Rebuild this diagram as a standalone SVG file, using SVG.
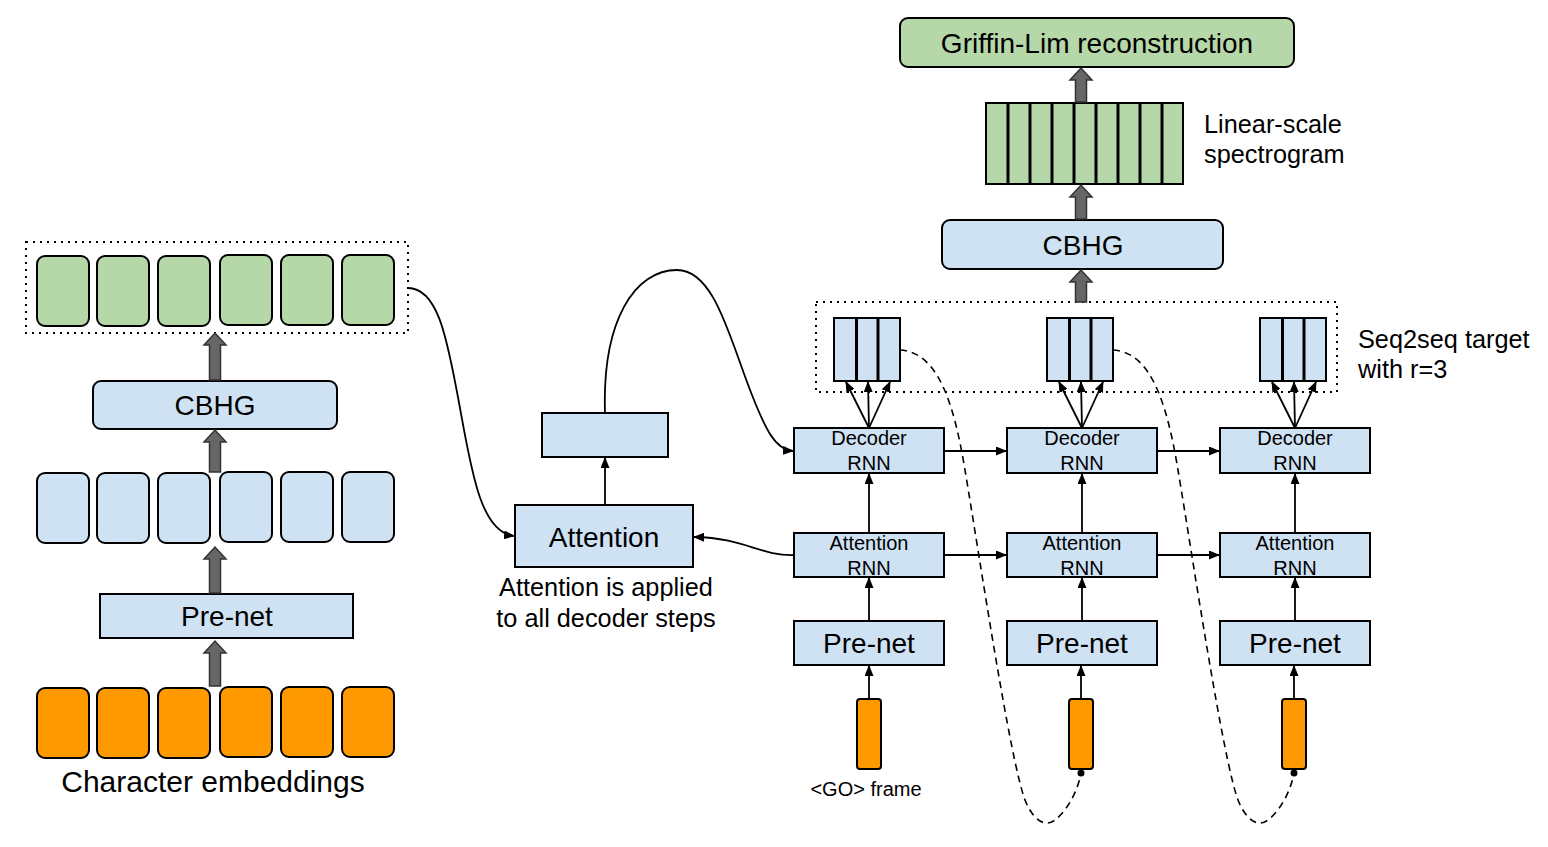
<svg xmlns="http://www.w3.org/2000/svg" width="1548" height="847" viewBox="0 0 1548 847">
<defs>
<style>
text{font-family:"Liberation Sans",Arial,sans-serif;fill:#000}
.blue{fill:#cfe2f3;stroke:#000;stroke-width:2}
.green{fill:#b6d7a8;stroke:#000;stroke-width:2}
.orange{fill:#ff9900;stroke:#000;stroke-width:2}
.dotted{fill:none;stroke:#000;stroke-width:2;stroke-dasharray:2,5}
.thick{fill:#666;stroke:#333;stroke-width:1.5}
.arr{fill:none;stroke:#000;stroke-width:1.8;marker-end:url(#ah)}
.dash{fill:none;stroke:#000;stroke-width:1.6;stroke-dasharray:7,5}
.div{stroke:#000;stroke-width:3}
.big{font-size:28px;text-anchor:middle}
.small{font-size:20px;text-anchor:middle}
.lbl{font-size:25.3px}
</style>
<marker id="ah" markerWidth="11" markerHeight="9" refX="10" refY="4.5" orient="auto" markerUnits="userSpaceOnUse">
<path d="M0,0 L11,4.5 L0,9 z" fill="#000"/>
</marker>
</defs>
<rect width="1548" height="847" fill="#fff"/>

<!-- Left encoder -->
<g id="encoder-outputs">
<rect class="dotted" x="26" y="242" width="382" height="91"/>
<rect class="green" x="37" y="256" width="52" height="70" rx="8"/>
<rect class="green" x="97" y="256" width="52" height="70" rx="8"/>
<rect class="green" x="158" y="256" width="52" height="70" rx="8"/>
<rect class="green" x="220" y="255" width="52" height="70" rx="8"/>
<rect class="green" x="281" y="255" width="52" height="70" rx="8"/>
<rect class="green" x="342" y="255" width="52" height="70" rx="8"/>
</g>
<g id="encoder-cbhg">
<rect class="blue" x="93" y="381" width="244" height="48" rx="8"/>
<text class="big" x="215" y="415">CBHG</text>
</g>
<g id="encoder-hidden">
<rect class="blue" x="37" y="473" width="52" height="70" rx="8"/>
<rect class="blue" x="97" y="473" width="52" height="70" rx="8"/>
<rect class="blue" x="158" y="473" width="52" height="70" rx="8"/>
<rect class="blue" x="220" y="472" width="52" height="70" rx="8"/>
<rect class="blue" x="281" y="472" width="52" height="70" rx="8"/>
<rect class="blue" x="342" y="472" width="52" height="70" rx="8"/>
</g>
<g id="encoder-prenet">
<rect class="blue" x="100" y="594" width="253" height="44"/>
<text class="big" x="227" y="626">Pre-net</text>
</g>
<g id="char-embeddings">
<rect class="orange" x="37" y="688" width="52" height="70" rx="8"/>
<rect class="orange" x="97" y="688" width="52" height="70" rx="8"/>
<rect class="orange" x="158" y="688" width="52" height="70" rx="8"/>
<rect class="orange" x="220" y="687" width="52" height="70" rx="8"/>
<rect class="orange" x="281" y="687" width="52" height="70" rx="8"/>
<rect class="orange" x="342" y="687" width="52" height="70" rx="8"/>
<text x="213" y="792" style="font-size:30px;text-anchor:middle">Character embeddings</text>
</g>

<!-- Attention -->
<g id="attention">
<rect class="blue" x="515" y="505" width="178" height="62"/>
<text class="big" x="604" y="547">Attention</text>
<text class="lbl" x="606" y="596" text-anchor="middle">Attention is applied</text>
<text class="lbl" x="606" y="627" text-anchor="middle">to all decoder steps</text>
</g>
<g id="context">
<rect class="blue" x="542" y="413" width="126" height="44"/>
</g>

<!-- Decoder columns -->
<g id="decoder-step-1">
<rect class="blue" x="794" y="428" width="150" height="45"/>
<text class="small" x="869" y="445">Decoder</text>
<text class="small" x="869" y="470">RNN</text>
<rect class="blue" x="794" y="533" width="150" height="44"/>
<text class="small" x="869" y="550">Attention</text>
<text class="small" x="869" y="575">RNN</text>
<rect class="blue" x="794" y="621" width="150" height="44"/>
<text class="big" x="869" y="653">Pre-net</text>
<rect class="orange" x="857" y="699" width="24" height="70" rx="3"/>
<text x="866" y="796" style="font-size:20px;text-anchor:middle">&lt;GO&gt; frame</text>
<rect class="blue" x="834" y="318" width="66" height="63"/>
<line class="div" x1="856.5" y1="318" x2="856.5" y2="381"/>
<line class="div" x1="878" y1="318" x2="878" y2="381"/>
</g>
<g id="decoder-step-2">
<rect class="blue" x="1007" y="428" width="150" height="45"/>
<text class="small" x="1082" y="445">Decoder</text>
<text class="small" x="1082" y="470">RNN</text>
<rect class="blue" x="1007" y="533" width="150" height="44"/>
<text class="small" x="1082" y="550">Attention</text>
<text class="small" x="1082" y="575">RNN</text>
<rect class="blue" x="1007" y="621" width="150" height="44"/>
<text class="big" x="1082" y="653">Pre-net</text>
<rect class="orange" x="1069" y="699" width="24" height="70" rx="3"/>
<rect class="blue" x="1047" y="318" width="66" height="63"/>
<line class="div" x1="1069.5" y1="318" x2="1069.5" y2="381"/>
<line class="div" x1="1091" y1="318" x2="1091" y2="381"/>
</g>
<g id="decoder-step-3">
<rect class="blue" x="1220" y="428" width="150" height="45"/>
<text class="small" x="1295" y="445">Decoder</text>
<text class="small" x="1295" y="470">RNN</text>
<rect class="blue" x="1220" y="533" width="150" height="44"/>
<text class="small" x="1295" y="550">Attention</text>
<text class="small" x="1295" y="575">RNN</text>
<rect class="blue" x="1220" y="621" width="150" height="44"/>
<text class="big" x="1295" y="653">Pre-net</text>
<rect class="orange" x="1282" y="699" width="24" height="70" rx="3"/>
<rect class="blue" x="1260" y="318" width="66" height="63"/>
<line class="div" x1="1282.5" y1="318" x2="1282.5" y2="381"/>
<line class="div" x1="1304" y1="318" x2="1304" y2="381"/>
</g>
<g id="seq2seq-target">
<rect class="dotted" x="816" y="302" width="521" height="90"/>
<text class="lbl" x="1358" y="348">Seq2seq target</text>
<text class="lbl" x="1358" y="378">with r=3</text>
</g>

<!-- Post-processing -->
<g id="post-cbhg">
<rect class="blue" x="942" y="220" width="281" height="49" rx="8"/>
<text class="big" x="1083" y="255">CBHG</text>
</g>
<g id="linear-spectrogram">
<rect class="green" x="986" y="103" width="197" height="81"/>
<line class="div" x1="1008" y1="103" x2="1008" y2="184"/>
<line class="div" x1="1030" y1="103" x2="1030" y2="184"/>
<line class="div" x1="1052" y1="103" x2="1052" y2="184"/>
<line class="div" x1="1074" y1="103" x2="1074" y2="184"/>
<line class="div" x1="1096" y1="103" x2="1096" y2="184"/>
<line class="div" x1="1118" y1="103" x2="1118" y2="184"/>
<line class="div" x1="1140" y1="103" x2="1140" y2="184"/>
<line class="div" x1="1162" y1="103" x2="1162" y2="184"/>
<text class="lbl" x="1204" y="133">Linear-scale</text>
<text class="lbl" x="1204" y="163">spectrogram</text>
</g>
<g id="griffin-lim">
<rect class="green" x="900" y="18" width="394" height="49" rx="8"/>
<text class="big" x="1097" y="53">Griffin-Lim reconstruction</text>
</g>

<!-- Connectors -->
<g id="connectors">
<polygon class="thick" points="209.5,686 209.5,653 204,653 215,641 226,653 220.5,653 220.5,686"/>
<polygon class="thick" points="209.5,593 209.5,559 204,559 215,547 226,559 220.5,559 220.5,593"/>
<polygon class="thick" points="209.5,472 209.5,442 204,442 215,430 226,442 220.5,442 220.5,472"/>
<polygon class="thick" points="209.5,380 209.5,345 204,345 215,333 226,345 220.5,345 220.5,380"/>
<polygon class="thick" points="1075.5,302 1075.5,282 1070,282 1081,270 1092,282 1086.5,282 1086.5,302"/>
<polygon class="thick" points="1075.5,219 1075.5,197 1070,197 1081,185 1092,197 1086.5,197 1086.5,219"/>
<polygon class="thick" points="1075.5,102 1075.5,80 1070,80 1081,68 1092,80 1086.5,80 1086.5,102"/>

<path class="arr" d="M408,288 C438,288 447,340 457,392 C470,460 478,532 514,536"/>
<path class="arr" d="M605,505 L605,458"/>
<path class="arr" d="M605,413 C602,320 635,270 677,270 C715,270 730,340 752,395 C765,428 775,450 793,451"/>
<path class="arr" d="M794,555 C760,556 745,538 694,537"/>

<path class="arr" d="M944,451 L1006,451"/>
<path class="arr" d="M1157,451 L1219,451"/>
<path class="arr" d="M944,555 L1006,555"/>
<path class="arr" d="M1157,555 L1219,555"/>

<path class="arr" d="M869,533 L869,474"/>
<path class="arr" d="M1082,533 L1082,474"/>
<path class="arr" d="M1295,533 L1295,474"/>
<path class="arr" d="M869,621 L869,578"/>
<path class="arr" d="M1082,621 L1082,578"/>
<path class="arr" d="M1295,621 L1295,578"/>
<path class="arr" d="M869,699 L869,666"/>
<path class="arr" d="M1081,699 L1081,666"/>
<path class="arr" d="M1294,699 L1294,666"/>

<path class="arr" d="M869,428 L846,382"/>
<path class="arr" d="M869,428 L868,382"/>
<path class="arr" d="M869,428 L890,382"/>
<path class="arr" d="M1082,428 L1059,382"/>
<path class="arr" d="M1082,428 L1081,382"/>
<path class="arr" d="M1082,428 L1103,382"/>
<path class="arr" d="M1295,428 L1272,382"/>
<path class="arr" d="M1295,428 L1294,382"/>
<path class="arr" d="M1295,428 L1316,382"/>

<path class="dash" d="M900,350 C940,352 955,410 965,470 C980,560 1010,760 1025,800 C1033,820 1045,828 1055,820 C1068,810 1078,790 1081,773"/>
<path class="dash" d="M1113,350 C1153,352 1168,410 1178,470 C1193,560 1223,760 1238,800 C1246,820 1258,828 1268,820 C1281,810 1291,790 1294,773"/>
<circle cx="1081" cy="773" r="3.5" fill="#000"/>
<circle cx="1294" cy="773" r="3.5" fill="#000"/>
</g>
</svg>
